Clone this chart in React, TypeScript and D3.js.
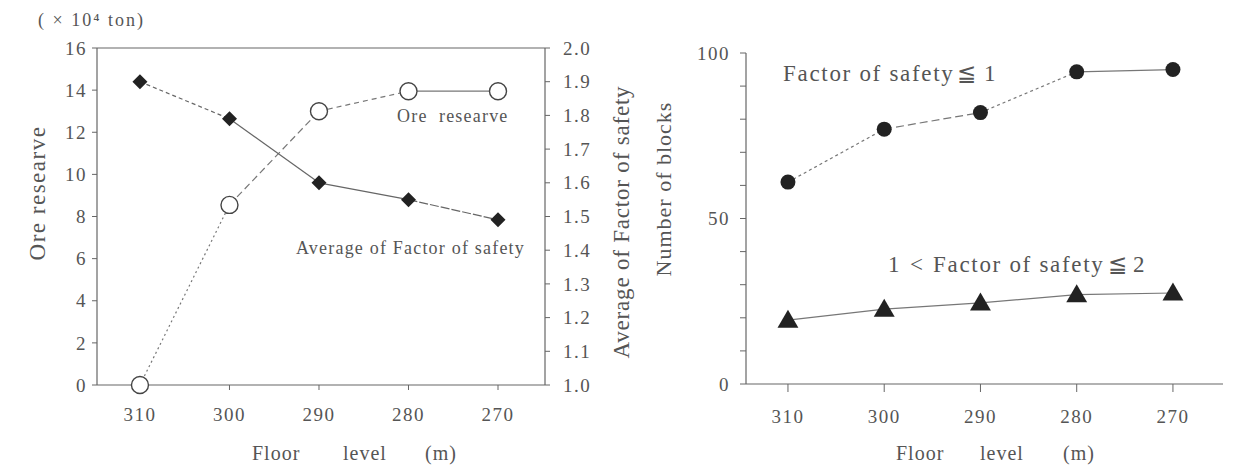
import React from "react";
import * as d3 from "d3";

const floors = [310, 300, 290, 280, 270];
const oreReserve = [0, 8.55, 13.0, 13.95, 13.95];
const avgFactor = [1.9, 1.79, 1.6, 1.55, 1.49];
const blocksFs1 = [61, 77, 82, 94.3, 95];
const blocksFs2 = [19.3, 22.6, 24.5, 27, 27.5];
const leftTicks = [0, 2, 4, 6, 8, 10, 12, 14, 16];
const rightTicks = [1.0, 1.1, 1.2, 1.3, 1.4, 1.5, 1.6, 1.7, 1.8, 1.9, 2.0];
const blockTicks = [0, 10, 20, 30, 40, 50, 60, 70, 80, 90, 100];
const blockLabels = [0, 50, 100];

const oreDash = ["2,3", "7,4", "5,4", "none"];
const fsDash = ["4,3", "none", "none", "9,2"];
const fs1Dash = ["3,3", "8,4", "3,3", "none"];

const TXT = "#555";
const AX = "#666";
const FONT = "'Liberation Serif', 'DejaVu Serif', serif";

export default function App() {
  const xL = d3.scaleLinear().domain([314.8, 264.75]).range([97, 545]);
  const yL = d3.scaleLinear().domain([0, 16]).range([385, 48]);
  const yR = d3.scaleLinear().domain([1, 2]).range([385, 48]);

  const xB = d3.scaleLinear().domain([314.36, 264.8]).range([746, 1223]);
  const yB = d3.scaleLinear().domain([0, 100]).range([384, 53]);

  const segs = (vals: number[], xs: any, ys: any) =>
    vals.slice(0, -1).map((v, i) => ({
      x1: xs(floors[i]), y1: ys(v), x2: xs(floors[i + 1]), y2: ys(vals[i + 1]),
    }));

  const diamond = (cx: number, cy: number, r: number) =>
    `M${cx},${cy - r}L${cx + r},${cy}L${cx},${cy + r}L${cx - r},${cy}Z`;
  const tri = (cx: number, cy: number, s: number) =>
    `M${cx},${cy - s * 0.55}L${cx + s * 0.55},${cy + s * 0.4}L${cx - s * 0.55},${cy + s * 0.4}Z`;

  const tick = { fontSize: 19, letterSpacing: 1.5, fill: TXT } as const;
  const big = { fontSize: 20, letterSpacing: 1, fill: TXT } as const;
  const inner = { fontSize: 18, letterSpacing: 1.2, fill: TXT } as const;
  const lab = { fontSize: 23, letterSpacing: 1.7, fill: TXT } as const;

  return (
    <svg width={1238} height={473} style={{ display: "block", position: "absolute", left: 0, top: 0, background: "#fff" }} fontFamily={FONT}>
      {/* ===== Left chart ===== */}
      <text x={38} y={26} fontSize={18} letterSpacing={2} fill={TXT}>( × 10⁴ ton)</text>
      <line x1={xL.range()[0]} x2={xL.range()[1]} y1={yL(16)} y2={yL(16)} stroke={AX} strokeWidth={1.2} />
      <line x1={xL.range()[0]} x2={xL.range()[1]} y1={yL(0)} y2={yL(0)} stroke={AX} strokeWidth={1.2} />
      <line x1={xL.range()[0]} x2={xL.range()[0]} y1={yL(0)} y2={yL(16)} stroke={AX} strokeWidth={1.2} />
      <line x1={xL.range()[1]} x2={xL.range()[1]} y1={yR(1)} y2={yR(2)} stroke={AX} strokeWidth={1.2} />
      {leftTicks.map((t) => (
        <g key={"lt" + t}>
          <line x1={xL.range()[0] - 5} x2={xL.range()[0]} y1={yL(t)} y2={yL(t)} stroke={AX} />
          <text x={xL.range()[0] - 10} y={yL(t)} dy="0.35em" textAnchor="end" {...tick}>{t}</text>
        </g>
      ))}
      {rightTicks.map((t) => (
        <g key={"rt" + t}>
          <line x1={xL.range()[1]} x2={xL.range()[1] + 5} y1={yR(t)} y2={yR(t)} stroke={AX} />
          <text x={xL.range()[1] + 18} y={yR(t)} dy="0.35em" textAnchor="start" {...tick}>{t.toFixed(1)}</text>
        </g>
      ))}
      {floors.map((f) => (
        <g key={"lx" + f}>
          <line x1={xL(f)} x2={xL(f)} y1={yL(0)} y2={yL(0) + 5} stroke={AX} />
          <text x={xL(f)} y={421} textAnchor="middle" {...tick}>{f}</text>
        </g>
      ))}
      <text x={252} y={460} {...big}>Floor</text>
      <text x={343} y={460} {...big}>level</text>
      <text x={425} y={460} {...big}>(m)</text>
      <text transform={`translate(45,193) rotate(-90)`} textAnchor="middle" fontSize={23} letterSpacing={1.5} fill={TXT}>Ore researve</text>
      <text transform={`translate(629,222) rotate(-90)`} textAnchor="middle" fontSize={23} letterSpacing={0.8} fill={TXT}>Average of Factor of safety</text>

      {segs(oreReserve, xL, yL).map((s, i) => (
        <line key={"os" + i} {...s} stroke="#777" strokeWidth={1.2} strokeDasharray={oreDash[i]} />
      ))}
      {segs(avgFactor, xL, yR).map((s, i) => (
        <line key={"fs" + i} {...s} stroke="#666" strokeWidth={1.2} strokeDasharray={fsDash[i]} />
      ))}
      {oreReserve.map((v, i) => (
        <circle key={"oc" + i} cx={xL(floors[i])} cy={yL(v)} r={8.5} fill="#fff" stroke="#444" strokeWidth={1.4} />
      ))}
      {avgFactor.map((v, i) => (
        <path key={"fd" + i} d={diamond(xL(floors[i]), yR(v), 7.5)} fill="#222" />
      ))}
      <text x={397} y={122} {...inner} style={{ whiteSpace: "pre" }}>Ore  researve</text>
      <text x={296} y={254} {...inner}>Average of Factor of safety</text>

      {/* ===== Right chart ===== */}
      <line x1={xB.range()[0]} x2={xB.range()[0]} y1={yB(0)} y2={yB(100)} stroke={AX} strokeWidth={1.2} />
      <line x1={xB.range()[0]} x2={xB.range()[1]} y1={yB(0)} y2={yB(0)} stroke={AX} strokeWidth={1.2} />
      {blockTicks.map((t) => (
        <line key={"bt" + t} x1={xB.range()[0] - 6} x2={xB.range()[0]} y1={yB(t)} y2={yB(t)} stroke={AX} />
      ))}
      {blockLabels.map((t) => (
        <text key={"bl" + t} x={xB.range()[0] - 16} y={yB(t)} dy="0.35em" textAnchor="end" {...tick}>{t}</text>
      ))}
      {floors.map((f) => (
        <g key={"bx" + f}>
          <line x1={xB(f)} x2={xB(f)} y1={yB(0)} y2={yB(0) + 8} stroke={AX} />
          <text x={xB(f)} y={423} textAnchor="middle" {...tick}>{f}</text>
        </g>
      ))}
      <text x={896} y={460} {...big}>Floor</text>
      <text x={980} y={460} {...big}>level</text>
      <text x={1063} y={460} {...big}>(m)</text>
      <text transform={`translate(671,189) rotate(-90)`} textAnchor="middle" fontSize={22} letterSpacing={1} fill={TXT}>Number of blocks</text>

      {segs(blocksFs1, xB, yB).map((s, i) => (
        <line key={"b1" + i} {...s} stroke="#777" strokeWidth={1.2} strokeDasharray={fs1Dash[i]} />
      ))}
      {segs(blocksFs2, xB, yB).map((s, i) => (
        <line key={"b2" + i} {...s} stroke="#777" strokeWidth={1.2} />
      ))}
      {blocksFs1.map((v, i) => (
        <circle key={"b1c" + i} cx={xB(floors[i])} cy={yB(v)} r={7.5} fill="#222" />
      ))}
      {blocksFs2.map((v, i) => (
        <path key={"b2t" + i} d={tri(xB(floors[i]), yB(v), 19)} fill="#222" />
      ))}
      <text x={783} y={81} {...lab}>Factor of safety</text>
      <text x={957} y={81} {...lab}>≦</text>
      <text x={984} y={81} {...lab}>1</text>
      <text x={888} y={272} {...lab}>1</text>
      <text x={910} y={272} {...lab}>&lt;</text>
      <text x={933} y={272} {...lab}>Factor of safety</text>
      <text x={1108} y={272} {...lab}>≦</text>
      <text x={1133} y={272} {...lab}>2</text>
    </svg>
  );
}
